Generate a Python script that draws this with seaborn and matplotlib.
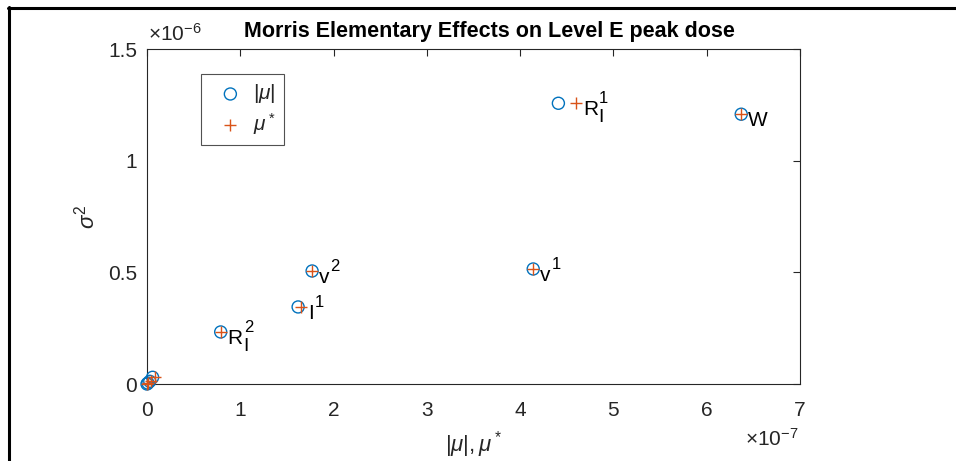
import matplotlib
matplotlib.use("Agg")
import matplotlib.pyplot as plt
import seaborn as sns
import pandas as pd
from matplotlib.ticker import FuncFormatter, FixedLocator
from matplotlib.lines import Line2D

# ---- data ----
names = ["W", "R1", "v1", "v2", "I1", "R2", "s1", "s2", "s3", "s4"]
mu_abs = [6.37e-7, 4.41e-7, 4.14e-7, 1.77e-7, 1.62e-7, 0.79e-7, 0.06e-7, 0.03e-7, 0.01e-7, 0.00e-7]
mu_star = [6.37e-7, 4.60e-7, 4.14e-7, 1.77e-7, 1.65e-7, 0.79e-7, 0.09e-7, 0.04e-7, 0.01e-7, 0.00e-7]
sigma2 = [1.208e-6, 1.257e-6, 0.515e-6, 0.506e-6, 0.345e-6, 0.233e-6, 0.030e-6, 0.012e-6, 0.004e-6, 0.000e-6]
# (base, superscript, subscript)
point_labels = {"W": ("W", "", ""), "R1": ("R", "1", "I"), "v1": ("v", "1", ""),
                "v2": ("v", "2", ""), "I1": ("I", "1", ""), "R2": ("R", "2", "I")}
x_ticks = [0, 1e-7, 2e-7, 3e-7, 4e-7, 5e-7, 6e-7, 7e-7]
y_ticks = [0, 0.5e-6, 1.0e-6, 1.5e-6]

df = pd.DataFrame({"name": names, "mu_abs": mu_abs, "mu_star": mu_star, "sigma2": sigma2})

sns.set_theme(style="white")
plt.rcParams["font.family"] = ["Liberation Sans", "DejaVu Sans"]
plt.rcParams["mathtext.fontset"] = "custom"
plt.rcParams["mathtext.rm"] = "Liberation Sans"
plt.rcParams["mathtext.it"] = "Liberation Sans:italic"
plt.rcParams["mathtext.bf"] = "Liberation Sans:bold"

blue = "#0072BD"
orange = "#D95319"
axcol = "#262626"
PX = 0.72  # points per pixel at 100 dpi

fig = plt.figure(figsize=(9.56, 4.61), dpi=100)
ax = fig.add_axes([147/956, 1 - 384/461, (800-147)/956, (384-49)/461])

sns.scatterplot(data=df, x="mu_abs", y="sigma2", ax=ax, marker="o", s=75,
                facecolors="none", edgecolor=blue, linewidth=1.0, label=r"$|\mu|$",
                zorder=3, clip_on=False)
sns.scatterplot(data=df, x="mu_star", y="sigma2", ax=ax, marker="+", s=75,
                color=orange, linewidth=1.0, label=r"$\mu^*$", zorder=4, clip_on=False)

for n, xs, y in zip(names, mu_star, sigma2):
    if n not in point_labels:
        continue
    base, sup, sub = point_labels[n]
    bt = ax.annotate(base, (xs, y), xytext=(7*PX, -12*PX), textcoords="offset points",
                     ha="left", va="baseline", fontsize=15, color="black")
    if sup:
        ax.annotate(sup, xy=(1, 0), xycoords=bt, xytext=(1*PX, 13*PX),
                    textcoords="offset points", ha="left", va="bottom",
                    fontsize=12, color="black")
    if sub:
        ax.annotate(sub, xy=(1, 0), xycoords=bt, xytext=(0, -7*PX),
                    textcoords="offset points", ha="left", va="bottom",
                    fontsize=14, color="black")

ax.set_xlim(0, 7e-7)
ax.set_ylim(0, 1.5e-6)
ax.xaxis.set_major_locator(FixedLocator(x_ticks))
ax.yaxis.set_major_locator(FixedLocator(y_ticks))
ax.xaxis.set_major_formatter(FuncFormatter(lambda v, p: f"{v/1e-7:g}"))
ax.yaxis.set_major_formatter(FuncFormatter(lambda v, p: f"{v/1e-6:g}"))
ax.tick_params(direction="in", length=5, width=0.8, color=axcol, labelsize=15,
               labelcolor=axcol, top=True, right=True, pad=7)
ax.tick_params(axis="x", pad=12)
for sp in ax.spines.values():
    sp.set_color(axcol)
    sp.set_linewidth(0.8)
    sp.set_visible(True)

ax.set_xlabel(r"$|\mu|,\mu^*$", fontsize=16, color=axcol, labelpad=7)
ax.set_ylabel(r"$\sigma^2$", fontsize=16, color=axcol, labelpad=6)
ax.set_title("Morris Elementary Effects on Level E peak dose", fontsize=15.5,
             fontweight="bold", color="black", pad=9, x=0.525)

ax.text(0.002, 1.012, r"$\times\mathrm{10}^{-6}$", transform=ax.transAxes, fontsize=15,
        color=axcol, ha="left", va="bottom")
ax.text(0.998, -0.13, r"$\times\mathrm{10}^{-7}$", transform=ax.transAxes, fontsize=15,
        color=axcol, ha="right", va="top")

leg = ax.legend(loc="upper left", bbox_to_anchor=(0.083, 0.925), fontsize=15,
                frameon=True, fancybox=False, edgecolor=axcol, handletextpad=0.1,
                handlelength=2.0, borderpad=0.4, labelspacing=0.25, borderaxespad=0)
leg.get_frame().set_linewidth(0.8)

fig.add_artist(Line2D([8/956, 1], [1 - 8/461, 1 - 8/461], color="black", lw=2.2,
                      transform=fig.transFigure))
fig.add_artist(Line2D([9/956, 9/956], [0, 1 - 7/461], color="black", lw=2.2,
                      transform=fig.transFigure))

fig.savefig("out.png", dpi=100)
